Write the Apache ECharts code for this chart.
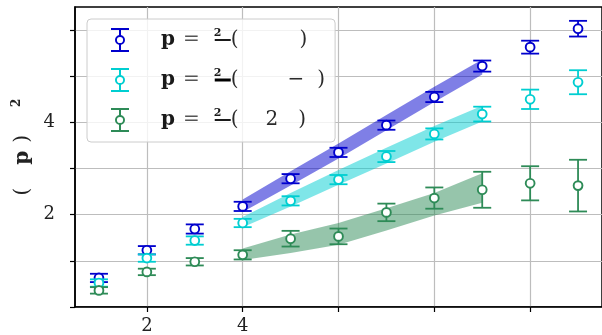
<!DOCTYPE html>
<html><head><meta charset="utf-8">
<script src="https://cdn.jsdelivr.net/npm/echarts@6/dist/echarts.min.js"></script>
<style>html,body{margin:0;padding:0;background:#fff}#c{width:602px;height:335px}</style>
</head><body><div id="c"></div>
<script>
// ---- data ----
const xValues = [1, 2, 3, 4, 5, 6, 7, 8, 9, 10, 11];
const blueY   = [0.63, 1.23, 1.69, 2.18, 2.78, 3.35, 3.94, 4.55, 5.22, 5.63, 6.03];
const blueErr = [0.09, 0.09, 0.10, 0.10, 0.10, 0.10, 0.10, 0.11, 0.12, 0.14, 0.17];
const cyanY   = [0.52, 1.06, 1.44, 1.82, 2.30, 2.76, 3.26, 3.75, 4.18, 4.50, 4.87];
const cyanErr = [0.08, 0.08, 0.09, 0.09, 0.10, 0.10, 0.12, 0.12, 0.16, 0.21, 0.26];
const greenY  = [0.36, 0.76, 0.98, 1.13, 1.48, 1.53, 2.05, 2.36, 2.54, 2.68, 2.63];
const greenErr= [0.07, 0.07, 0.08, 0.10, 0.17, 0.17, 0.19, 0.23, 0.39, 0.37, 0.56];

const bandX   = [4, 5, 6, 7, 8, 9];
const blueLo  = [2.06, 2.63, 3.22, 3.83, 4.44, 5.04];
const blueHi  = [2.33, 2.94, 3.54, 4.16, 4.77, 5.36];
const cyanLo  = [1.73, 2.18, 2.65, 3.11, 3.58, 4.02];
const cyanHi  = [1.95, 2.47, 2.97, 3.45, 3.92, 4.36];
const greenLo = [1.02, 1.17, 1.35, 1.66, 1.98, 2.26];
const greenHi = [1.27, 1.57, 1.82, 2.14, 2.47, 2.90];

const seriesNames = ['p = 2/( )', 'p = 2/( − )', 'p = 2/( 2 )'];
const xTickValues = [2, 4, 6, 8, 10];
const xLabelValues = [2, 4];
const yTickValues = [0, 1, 2, 3, 4, 5, 6];
const yLabelValues = [2, 4];

// ---- styles ----
const COLORS = ['#0000cd', '#00ced1', '#2e8b57'];
const BANDS = ['rgba(0,0,205,0.5)', 'rgba(0,206,209,0.5)', 'rgba(46,139,87,0.5)'];
const SERIF = 'DejaVu Serif';

function errSeries(name, color, ys, errs) {
  return {
    type: 'custom', name: name, coordinateSystem: 'cartesian2d', z: 3,
    itemStyle: { color: color },
    encode: { x: 0, y: 1 },
    data: xValues.map((x, i) => [x, ys[i], errs[i]]),
    renderItem: function (params, api) {
      const x = api.value(0), y = api.value(1), e = api.value(2);
      const c = api.coord([x, y]), hi = api.coord([x, y + e]), lo = api.coord([x, y - e]);
      const hw = 9, r = 4.4;
      const st = { stroke: color, lineWidth: 1.8, fill: null };
      return { type: 'group', children: [
        { type: 'line', shape: { x1: c[0], y1: hi[1], x2: c[0], y2: lo[1] }, style: st },
        { type: 'line', shape: { x1: c[0] - hw, y1: hi[1], x2: c[0] + hw, y2: hi[1] }, style: st },
        { type: 'line', shape: { x1: c[0] - hw, y1: lo[1], x2: c[0] + hw, y2: lo[1] }, style: st },
        { type: 'circle', shape: { cx: c[0], cy: c[1], r: r }, style: { fill: '#fff', stroke: color, lineWidth: 1.9 } }
      ]};
    }
  };
}

function bandSeries(color, lo, hi) {
  return {
    type: 'custom', coordinateSystem: 'cartesian2d', z: 1, silent: true,
    data: bandX.map((x, i) => [x, lo[i], hi[i]]),
    encode: { x: 0, y: [1, 2] },
    renderItem: function (params, api) {
      if (params.dataIndex !== 0) return null;
      const pts = [];
      for (let i = 0; i < bandX.length; i++) pts.push(api.coord([bandX[i], hi[i]]));
      for (let i = bandX.length - 1; i >= 0; i--) pts.push(api.coord([bandX[i], lo[i]]));
      return { type: 'polygon', shape: { points: pts }, style: { fill: color } };
    }
  };
}

const ICON = 'path://M0 0H18V2H0Z M8 2H10V7.6H8Z M8 16.4H10V22H8Z M0 22H18V24H0Z ' +
  'M4 12A5 5 0 1 1 14 12A5 5 0 1 1 4 12Z M5.9 12A3.1 3.1 0 1 0 12.1 12A3.1 3.1 0 1 0 5.9 12Z';

const NB = '\u00a0';
const legendRows = [
  `{g0|${NB}}{p|p}{g1|${NB}}{eq|=}{g2|${NB}}{num|2}{bar|${NB}}{t|(}{gA|${NB}}{t|)}`,
  `{g0|${NB}}{p|p}{g1|${NB}}{eq|=}{g2|${NB}}{num|2}{bar2|${NB}}{t|(}{gB|${NB}}{t|−}{gC|${NB}}{t|)}`,
  `{g0|${NB}}{p|p}{g1|${NB}}{eq|=}{g2|${NB}}{num|2}{bar|${NB}}{t|(}{gD|${NB}}{t|2}{gE|${NB}}{t|)}`
];

function sp(w) { return { width: w, lineHeight: 24, fontSize: 10 }; }

const chart = echarts.init(document.getElementById('c'), null, { renderer: 'canvas' });
chart.setOption({
  animation: false,
  backgroundColor: '#fff',
  grid: { left: 75, right: -5, top: 7, bottom: 28, show: true, borderColor: '#000', borderWidth: 1.5, backgroundColor: 'transparent' },
  xAxis: {
    type: 'value', min: 0.5, max: 11.5,
    axisLine: { lineStyle: { color: '#000', width: 1.5 } },
    axisTick: { customValues: xTickValues, length: 5, lineStyle: { color: '#000', width: 1.2 } },
    axisLabel: { customValues: xLabelValues, margin: 10, fontFamily: SERIF, fontSize: 18, color: '#222' },
    splitLine: { show: true, lineStyle: { color: '#bdbdbd', width: 1.2 } }
  },
  yAxis: {
    type: 'value', min: 0, max: 6.5,
    name: '{par|(}{s1|' + NB + '}{pb|p}{s2|' + NB + '}{par|)}{s3|' + NB + '}{sup|2}',
    nameLocation: 'middle', nameRotate: 90, nameGap: 39,
    nameTextStyle: {
      padding: [0, 0, 0, 20],
      rich: {
        par: { fontFamily: SERIF, fontSize: 20, lineHeight: 24, color: '#222' },
        pb: { fontFamily: SERIF, fontWeight: 'bold', fontSize: 20, lineHeight: 24, color: '#222' },
        sup: { fontFamily: SERIF, fontWeight: 'bold', fontSize: 12, lineHeight: 12, verticalAlign: 'top', color: '#222' },
        s1: sp(23), s2: sp(8), s3: sp(28)
      }
    },
    axisLine: { show: true, lineStyle: { color: '#000', width: 1.5 } },
    axisTick: { show: true, customValues: yTickValues, length: 5, lineStyle: { color: '#000', width: 1.2 } },
    axisLabel: { customValues: yLabelValues, margin: 20, fontFamily: SERIF, fontSize: 18, color: '#222' },
    splitLine: { show: true, lineStyle: { color: '#bdbdbd', width: 1.2 } }
  },
  legend: {
    orient: 'vertical', left: 87, top: 19,
    padding: [9, 10, 10, 24], itemGap: 16, itemWidth: 18, itemHeight: 24,
    backgroundColor: 'rgba(255,255,255,0.8)', borderColor: '#cccccc', borderWidth: 1, borderRadius: 4,
    selectedMode: false,
    data: seriesNames.map(n => ({ name: n, icon: ICON })),
    formatter: function (name) { return legendRows[seriesNames.indexOf(name)]; },
    textStyle: {
      rich: {
        p: { fontFamily: SERIF, fontWeight: 'bold', fontSize: 20, lineHeight: 24, color: '#1a1a1a' },
        eq: { fontFamily: SERIF, fontSize: 20, lineHeight: 24, color: '#555' },
        t: { fontFamily: SERIF, fontSize: 20, lineHeight: 24, color: '#2a2a2a' },
        num: { fontFamily: SERIF, fontWeight: 'bold', fontSize: 11, lineHeight: 12, width: 1, align: 'left', verticalAlign: 'top', color: '#1a1a1a' },
        bar: { width: 16, height: 2, lineHeight: 2, fontSize: 2, backgroundColor: '#1a1a1a', verticalAlign: 'middle' },
        bar2: { width: 16, height: 3, lineHeight: 3, fontSize: 2, backgroundColor: '#000', verticalAlign: 'middle' },
        g0: sp(27), g1: sp(8), g2: sp(14), gA: sp(61), gB: sp(49), gC: sp(13), gD: sp(27), gE: sp(20)
      }
    }
  },
  series: [
    bandSeries(BANDS[0], blueLo, blueHi),
    bandSeries(BANDS[1], cyanLo, cyanHi),
    bandSeries(BANDS[2], greenLo, greenHi),
    errSeries(seriesNames[0], COLORS[0], blueY, blueErr),
    errSeries(seriesNames[1], COLORS[1], cyanY, cyanErr),
    errSeries(seriesNames[2], COLORS[2], greenY, greenErr)
  ]
});
</script>
</body></html>
